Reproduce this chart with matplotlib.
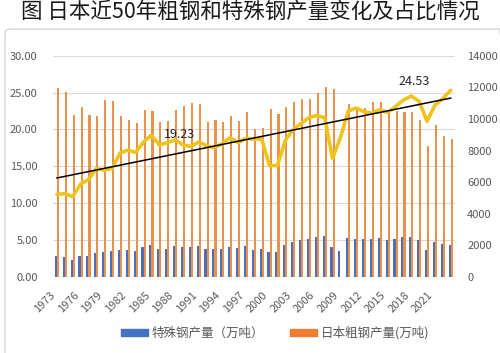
import numpy as np
import matplotlib
matplotlib.use('Agg')
import matplotlib.pyplot as plt
from matplotlib.patches import Patch, FancyBboxPatch
from matplotlib.ticker import FormatStrFormatter

plt.rcParams['font.family'] = ['Noto Sans CJK SC', 'DejaVu Sans']

# ---------------- data ----------------
years = list(range(1973, 2024))
# Japan crude steel output (万吨); 2009 bar absent in the reference
crude_steel = [11932, 11713, 10231, 10740, 10241, 10210, 11175, 11140, 10168, 9955,
               9718, 10559, 10528, 9828, 9851, 10568, 10791, 11034, 10965, 9813,
               9962, 9830, 10164, 9880, 10454, 9355, 9419, 10644, 10287, 10775,
               11051, 11272, 11247, 11622, 12020, 11873, np.nan, 10960, 10760, 10723,
               11060, 11067, 10513, 10478, 10466, 10432, 9928, 8319, 9634, 8923, 8700]
# special steel output (万吨)
special_steel = [1330, 1290, 1100, 1330, 1330, 1500, 1610, 1660, 1680, 1690,
                 1620, 1880, 2010, 1770, 1770, 1960, 1910, 1900, 1980, 1760,
                 1750, 1780, 1920, 1810, 1960, 1730, 1750, 1590, 1560, 2000,
                 2200, 2340, 2430, 2550, 2600, 1890, 1620, 2460, 2420, 2390,
                 2410, 2490, 2340, 2410, 2510, 2550, 2350, 1730, 2240, 2100, 2050]
# share of special steel (%)
share = [11.2, 11.3, 10.9, 12.6, 13.2, 14.7, 14.5, 14.7, 16.8, 17.2,
         16.9, 18.3, 19.23, 17.9, 18.2, 18.6, 17.9, 17.7, 18.3, 17.8,
         17.5, 18.1, 18.9, 18.2, 18.8, 18.7, 18.7, 15.1, 15.1, 18.5,
         20.0, 20.8, 21.6, 21.9, 21.6, 16.1, 18.9, 22.5, 22.9, 22.4,
         22.2, 22.7, 22.3, 23.1, 24.0, 24.53, 23.8, 21.1, 23.3, 24.2, 25.3]
tick_years = years[::3]
label_points = {1985: "19.23", 2018: "24.53"}
title = "图 日本近50年粗钢和特殊钢产量变化及占比情况"
legend_labels = ["特殊钢产量（万吨）", "日本粗钢产量(万吨)"]

# ---------------- style ----------------
blue_bar = '#4F6DB8'
orange_bar = '#E8924C'
gold = '#F0C31A'
grid_c = '#D9D9D9'
txt_c = '#595959'

W, H = 500, 353
fig = plt.figure(figsize=(W / 100, H / 100), dpi=100)
fig.patch.set_facecolor('white')

fig.patches.append(FancyBboxPatch((5 / W, -0.02), 1.0, (H - 29) / H + 0.02,
                                  boxstyle='round,pad=0,rounding_size=0.012',
                                  transform=fig.transFigure, fill=False,
                                  edgecolor='#D6D6D6', lw=1.0))

fig.text(0.5, 1 - 12 / H, title, ha='center', va='center', fontsize=15.5, color='#1a1a1a')

left, right, top, bottom = 53, 454.6, 55.7, 277
ax = fig.add_axes([left / W, (H - bottom) / H, (right - left) / W, (bottom - top) / H])
ax2 = ax.twinx()
ax.set_zorder(ax2.get_zorder() + 1)
ax.patch.set_visible(False)

x = np.array(years, dtype=float)
w = 0.27
ax2.bar(x - w / 2, special_steel, width=w, color=blue_bar, zorder=2, linewidth=0)
ax2.bar(x + w / 2, crude_steel, width=w, color=orange_bar, zorder=2, linewidth=0)
for v in np.linspace(0, 14000, 7):
    ax2.axhline(v, color=grid_c, lw=0.8, zorder=0)
ax2.set_ylim(0, 14000)
ax2.set_yticks(range(0, 14001, 2000))

ratio = np.array(share)
ax.plot(x, ratio, color=gold, lw=2.6, solid_joinstyle='round', solid_capstyle='round', zorder=3)
coef = np.polyfit(x, ratio, 1)
xe = x[[0, -1]]
ax.plot(xe, np.polyval(coef, xe), color='black', lw=1.1, zorder=4)

for yr, txt in label_points.items():
    i = years.index(yr)
    if yr == 1985:
        ax.annotate(txt, (x[i], ratio[i]), xytext=(9, 0.5), textcoords='offset points',
                    ha='left', va='center', fontsize=9, color='#262626', zorder=5)
    else:
        ax.annotate(txt, (x[i], ratio[i]), xytext=(2, 6), textcoords='offset points',
                    ha='center', va='bottom', fontsize=9, color='#262626', zorder=5)

ax.set_ylim(0, 30)
ax.set_yticks(np.arange(0, 31, 5))
ax.yaxis.set_major_formatter(FormatStrFormatter('%.2f'))
ax.set_xlim(1972.5, 2023.5)
ax.set_xticks(tick_years)
ax.set_xticklabels([str(t) for t in tick_years], rotation=45, ha='right')

for a in (ax, ax2):
    for s in a.spines.values():
        s.set_visible(False)
ax.tick_params(axis='y', length=0, pad=11, labelsize=8, labelcolor=txt_c)
ax.tick_params(axis='x', length=0, pad=9, labelsize=8, labelcolor=txt_c)
ax2.tick_params(axis='y', length=0, pad=9, labelsize=8, labelcolor=txt_c)

handles = [Patch(color='#4472C4'), Patch(color='#ED7D31')]
fig.legend(handles, legend_labels, loc='center', bbox_to_anchor=(0.55, 20 / H),
           ncol=2, frameon=False, fontsize=9, handlelength=2.2, handleheight=0.5,
           handletextpad=0.3, columnspacing=2.0, labelcolor=txt_c)

fig.savefig('out.png', dpi=100, facecolor='white')
